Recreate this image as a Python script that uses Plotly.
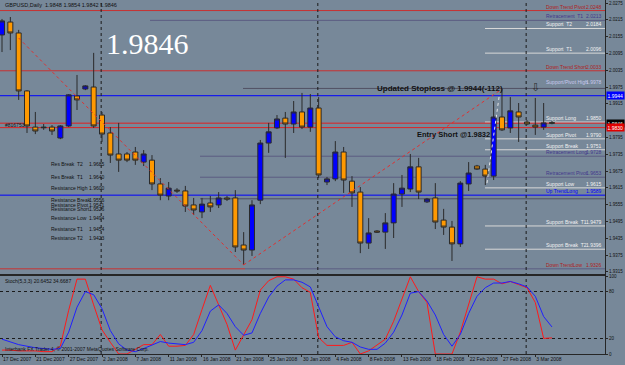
import plotly.graph_objects as go

# ---------------- data ----------------
bar_dates = [
    "17 Dec 2007", "18 Dec 2007", "19 Dec 2007", "20 Dec 2007", "21 Dec 2007", "23 Dec 2007",
    "24 Dec 2007", "26 Dec 2007", "27 Dec 2007", "28 Dec 2007", "30 Dec 2007", "31 Dec 2007",
    "2 Jan 2008", "3 Jan 2008", "4 Jan 2008", "6 Jan 2008", "7 Jan 2008", "8 Jan 2008",
    "9 Jan 2008", "10 Jan 2008", "11 Jan 2008", "13 Jan 2008", "14 Jan 2008", "15 Jan 2008",
    "16 Jan 2008", "17 Jan 2008", "18 Jan 2008", "20 Jan 2008", "21 Jan 2008", "22 Jan 2008",
    "23 Jan 2008", "24 Jan 2008", "25 Jan 2008", "27 Jan 2008", "28 Jan 2008", "29 Jan 2008",
    "30 Jan 2008", "31 Jan 2008", "1 Feb 2008", "3 Feb 2008", "4 Feb 2008", "5 Feb 2008",
    "6 Feb 2008", "7 Feb 2008", "8 Feb 2008", "10 Feb 2008", "11 Feb 2008", "12 Feb 2008",
    "13 Feb 2008", "14 Feb 2008", "15 Feb 2008", "17 Feb 2008", "18 Feb 2008", "19 Feb 2008",
    "20 Feb 2008", "21 Feb 2008", "22 Feb 2008", "24 Feb 2008", "25 Feb 2008", "26 Feb 2008",
    "27 Feb 2008", "28 Feb 2008", "29 Feb 2008", "2 Mar 2008", "3 Mar 2008", "4 Mar 2008",
    "5 Mar 2008"]

opens = [2.0161, 2.0207, 2.0168, 1.9961, 1.9832, 1.9832, 1.9832, 1.9793, 1.9836, 1.9943,
         1.9968, 1.9975, 1.9875, 1.9811, 1.9736, 1.9736, 1.9743, 1.9707, 1.9714, 1.9629,
         1.9586, 1.9607, 1.9604, 1.9554, 1.9529, 1.9561, 1.9554, 1.9579, 1.9579, 1.9411,
         1.9393, 1.9571, 1.9775, 1.9829, 1.9864, 1.9843, 1.9886, 1.9832, 1.9900, 1.9636,
         1.9647, 1.9743, 1.9639, 1.9600, 1.9418, 1.9461, 1.9457, 1.9490, 1.9593, 1.9611,
         1.9690, 1.9565, 1.9579, 1.9500, 1.9475, 1.9415, 1.9629, 1.9693, 1.9682, 1.9657,
         1.9868, 1.9829, 1.9886, 1.9850, 1.9839, 1.9832, 1.9848]
highs = [2.0218, 2.0225, 2.0179, 1.9964, 1.9886, 1.9843, 1.9839, 1.9839, 1.9950, 2.0018,
         1.9982, 2.0097, 1.9886, 1.9832, 1.9847, 1.9743, 1.9761, 1.9750, 1.9732, 1.9650,
         1.9636, 1.9614, 1.9622, 1.9579, 1.9579, 1.9586, 1.9600, 1.9586, 1.9607, 1.9457,
         1.9571, 1.9786, 1.9847, 1.9875, 1.9886, 1.9925, 1.9954, 1.9950, 1.9939, 1.9654,
         1.9782, 1.9761, 1.9657, 1.9618, 1.9507, 1.9464, 1.9525, 1.9632, 1.9661, 1.9736,
         1.9722, 1.9579, 1.9632, 1.9540, 1.9497, 1.9639, 1.9707, 1.9697, 1.9697, 1.9925,
         1.9968, 1.9939, 1.9918, 1.9857, 1.9936, 1.9918, 1.9854]
lows = [2.0100, 2.0107, 1.9929, 1.9811, 1.9807, 1.9822, 1.9804, 1.9789, 1.9832, 1.9893,
        1.9964, 1.9829, 1.9779, 1.9704, 1.9672, 1.9707, 1.9697, 1.9693, 1.9607, 1.9571,
        1.9571, 1.9597, 1.9529, 1.9518, 1.9507, 1.9529, 1.9543, 1.9568, 1.9386, 1.9340,
        1.9372, 1.9557, 1.9740, 1.9825, 1.9722, 1.9811, 1.9825, 1.9815, 1.9650, 1.9625,
        1.9639, 1.9597, 1.9547, 1.9382, 1.9397, 1.9454, 1.9397, 1.9436, 1.9547, 1.9600,
        1.9575, 1.9561, 1.9468, 1.9447, 1.9354, 1.9404, 1.9604, 1.9679, 1.9625, 1.9643,
        1.9818, 1.9811, 1.9779, 1.9839, 1.9804, 1.9822, 1.9842]
closes = [2.0211, 2.0168, 1.9961, 1.9836, 1.9818, 1.9830, 1.9818, 1.9836, 1.9947, 1.9929,
          1.9979, 1.9836, 1.9807, 1.9732, 1.9714, 1.9714, 1.9714, 1.9736, 1.9629, 1.9589,
          1.9614, 1.9604, 1.9550, 1.9536, 1.9557, 1.9547, 1.9579, 1.9575, 1.9404, 1.9393,
          1.9554, 1.9775, 1.9815, 1.9861, 1.9843, 1.9886, 1.9832, 1.9900, 1.9661, 1.9647,
          1.9743, 1.9643, 1.9597, 1.9418, 1.9454, 1.9457, 1.9490, 1.9593, 1.9614, 1.9690,
          1.9600, 1.9575, 1.9493, 1.9475, 1.9415, 1.9632, 1.9668, 1.9682, 1.9657, 1.9868,
          1.9822, 1.9890, 1.9868, 1.9843, 1.9832, 1.9847, 1.9846]

stoch_main = [5, 5, 4, 4, 4, 3, 3, 10, 56, 96,
              96, 63, 31, 15, 0, 0, 6, 12, 12, 25,
              10, 10, 11, 25, 57, 88, 63, 38, 5, 25,
              44, 82, 94, 99, 99, 96, 85, 79, 21, 11,
              11, 11, 15, 0, 4, 12, 19, 42, 70, 99,
              80, 66, 0, 0, 0, 28, 63, 99, 96, 96,
              90, 93, 89, 85, 66, 20, 20.6452]
stoch_signal = [19, 16, 12, 10, 8, 7, 6, 7, 28, 60,
                80, 76, 58, 30, 13, 5, 3, 7, 12, 16,
                14, 13, 12, 15, 30, 55, 63, 52, 35, 24,
                27, 52, 73, 87, 95, 95, 92, 86, 60, 35,
                22, 17, 15, 9, 6, 6, 14, 28, 50, 78,
                80, 68, 50, 25, 10, 25, 52, 74, 85, 91,
                91, 93, 90, 86, 74, 48, 34.6687]

# the 1.9855 tick is hidden behind the price box in the reference
price_ticks = [2.0275, 2.0215, 2.0155, 2.0095, 2.0035, 1.9975, 1.9915, 1.9795,
               1.9735, 1.9675, 1.9615, 1.9555, 1.9495, 1.9435, 1.9375, 1.9315]
stoch_ticks = [0, 20, 80, 100]

level_names = ["Down Trend Pivot", "Retracement  T1", "Support  T2", "Support  T1",
               "Down Trend Short", "Support/Pivot High", "Support Long", "Support Pivot",
               "Support Break", "Retracement Long", "Retracement Pivot", "Support Low",
               "Up TrendLong", "Support Break  T1", "Support Break  T2", "Down TrendLow"]
level_values = [2.0248, 2.0213, 2.0184, 2.0096, 2.0033, 1.9978, 1.9850, 1.9790, 1.9751,
                1.9728, 1.9653, 1.9615, 1.9589, 1.9479, 1.9396, 1.9326]

left_names = ["Res Break  T2", "Res Break  T1", "Resistance High", "Resistance Break",
              "Resistance Pivot", "Resistance Short", "Resistance Low", "Resistance T1",
              "Resistance T2"]
left_values = [1.9685, 1.9640, 1.9600, 1.9556, 1.9541, 1.9526, 1.9494, 1.9454, 1.9423]

stop_level = 1.9944
bid_level = 1.9846
entry_level = 1.9830
marker_line_level = 1.9970
retr_short_level = 1.9576
trend_a_x, trend_a_y = [2, 29], [2.0150, 1.9340]
trend_b_x, trend_b_y = [29, 60], [1.9340, 1.9968]
stop_arrow_bar, stop_arrow_price = 64, 1.9975

title_text = "GBPUSD,Daily  1.9848 1.9854 1.9842 1.9846"
stoch_text = "Stoch(5,3,3) 20.6452 34.6687"

for arr in (opens, highs, lows, closes, stoch_main, stoch_signal):
    assert len(arr) == len(bar_dates)

# ---------------- geometry / style ----------------
W, H = 625, 365
BG = "#778899"
FONT = "Liberation Sans"
PLOT_R = 605
X0_PX, DX_PX = 2.0, 8.333
MAIN_BOTTOM = 274
ST_TOP, ST_BOTTOM = 276, 354
bars = list(range(len(bar_dates)))


def px(x):
    return x / W


def py(y):
    return 1 - y / H


x_range = [(0 - X0_PX) / DX_PX, (PLOT_R - X0_PX) / DX_PX]
main_range = [1.93075, 2.02857]

RED_LINE = "#c83232"
RED_TXT = "#b01e1e"
PURP_LINE = "#5c5c82"
PURP_TXT = "#43388c"
WHITE_LINE = "#d8d8d8"
WHITE_TXT = "#f2f2f2"
BLUE = "#0000ff"
DARK = "#262626"

fig = go.Figure()

fig.add_trace(go.Candlestick(
    x=bars, open=opens, high=highs, low=lows, close=closes,
    xaxis="x", yaxis="y", whiskerwidth=0,
    increasing=dict(fillcolor="#0000ff", line=dict(color="#2a2a2a", width=1)),
    decreasing=dict(fillcolor="#ff9900", line=dict(color="#2a2a2a", width=1)),
    showlegend=False, hoverinfo="skip"))

# trend lines
fig.add_trace(go.Scatter(x=trend_a_x, y=trend_a_y, mode="lines", xaxis="x", yaxis="y",
                         line=dict(color="#e03030", width=1, dash="dot"), showlegend=False))
fig.add_trace(go.Scatter(x=trend_b_x, y=trend_b_y, mode="lines", xaxis="x", yaxis="y",
                         line=dict(color="#e03030", width=1, dash="dot"), showlegend=False))

# stochastic
fig.add_trace(go.Scatter(x=bars, y=stoch_main, mode="lines", xaxis="x2", yaxis="y2",
                         line=dict(color="#ff1a1a", width=1), showlegend=False))
fig.add_trace(go.Scatter(x=bars, y=stoch_signal, mode="lines", xaxis="x2", yaxis="y2",
                         line=dict(color="#2020ff", width=1), showlegend=False))

shapes = []
annotations = []


def hline(y, color, x0px=0, x1px=PLOT_R, dash="solid", width=1):
    shapes.append(dict(type="line", xref="paper", yref="y", x0=px(x0px), x1=px(x1px),
                       y0=y, y1=y, line=dict(color=color, width=width, dash=dash), layer="below"))


# level lines + right labels
for name, val in zip(level_names, level_values):
    if name.startswith("Down Trend"):
        tcol = RED_TXT
        if name == "Down TrendLow":
            hline(val, RED_LINE, 0, 245)
            hline(val, PURP_LINE, 245, PLOT_R)
        else:
            hline(val, RED_LINE)
    elif name.startswith("Retracement"):
        tcol = PURP_TXT
        hline(val, PURP_LINE, 200 if name != "Retracement  T1" else 150, PLOT_R)
    elif name.startswith("Up Trend"):
        tcol = BLUE
        hline(val, BLUE)
    elif name == "Support/Pivot High":
        tcol = "#c9c9ee"
    else:
        tcol = WHITE_TXT
        hline(val, WHITE_LINE, 485, PLOT_R)
    annotations.append(dict(xref="paper", yref="y", x=px(545), y=val, text=name,
                            xanchor="left", yanchor="bottom", showarrow=False,
                            font=dict(size=5, color=tcol, family=FONT), borderpad=0))
    annotations.append(dict(xref="paper", yref="y", x=px(603), y=val, text=f"{val:.4f}",
                            xanchor="right", yanchor="bottom", showarrow=False,
                            font=dict(size=5, color=tcol, family=FONT), borderpad=0))

hline(stop_level, BLUE)
hline(bid_level, "#e02020")
hline(entry_level, "#e02020")
hline(marker_line_level, "#505064", 243, PLOT_R)
hline(retr_short_level, "#505064", 200, PLOT_R)

# dotted vertical grid lines
for gx in [11.9, 37.9, 62.9]:
    shapes.append(dict(type="line", xref="x", yref="paper", x0=gx, x1=gx,
                       y0=py(ST_BOTTOM), y1=1, line=dict(color="#1a1a1a", width=1, dash="dot"),
                       layer="below"))

# white dotted stop marker line
shapes.append(dict(type="line", xref="x", yref="y", x0=58.2, x1=59.7, y0=1.9632, y1=1.9950,
                   line=dict(color="#e8e8e8", width=1, dash="dot")))

# left resistance labels
for name, val in zip(left_names, left_values):
    annotations.append(dict(xref="paper", yref="y", x=px(50), y=val, text=name,
                            xanchor="left", yanchor="bottom", showarrow=False,
                            font=dict(size=5, color="#111111", family=FONT), borderpad=0))
    annotations.append(dict(xref="paper", yref="y", x=px(88), y=val, text=f"{val:.4f}",
                            xanchor="left", yanchor="bottom", showarrow=False,
                            font=dict(size=5, color="#111111", family=FONT), borderpad=0))

# price boxes on the axis
for val, bg in [(stop_level, "#0000ff"), (bid_level, "#000000"), (entry_level, "#e00000")]:
    annotations.append(dict(xref="paper", yref="y", x=px(606), y=val, text=f"{val:.4f}",
                            xanchor="left", yanchor="middle", showarrow=False, bgcolor=bg,
                            font=dict(size=5, color="#ffffff", family=FONT), borderpad=0.5))

# texts
annotations += [
    dict(xref="paper", yref="paper", x=px(3), y=py(5), text=title_text, xanchor="left",
         yanchor="middle", showarrow=False, font=dict(size=5.5, color="#111111", family=FONT)),
    dict(xref="paper", yref="paper", x=px(147), y=py(44), text=f"{closes[-1]:.4f}",
         xanchor="center", yanchor="middle", showarrow=False,
         font=dict(size=30, color="#ffffff", family="Liberation Serif")),
    dict(xref="paper", yref="paper", x=px(3), y=py(125), text="#816753", xanchor="left",
         yanchor="middle", showarrow=False, font=dict(size=5, color="#111111", family=FONT)),
    dict(xref="paper", yref="paper", x=px(375), y=py(88),
         text=f"<b>Updated Stoploss @ {stop_level:.4f}(-112)</b>", xanchor="left",
         yanchor="middle", showarrow=False, font=dict(size=8, color="#111111", family=FONT)),
    dict(xref="paper", yref="paper", x=px(415), y=py(135),
         text="<b>Entry Short @1.9832</b>", xanchor="left",
         yanchor="middle", showarrow=False, font=dict(size=7.5, color="#111111", family=FONT)),
    dict(xref="x", yref="y", x=stop_arrow_bar, y=stop_arrow_price, text="⇩",
         xanchor="center", yanchor="middle", showarrow=False,
         font=dict(size=11, color="#2a2a2a", family="DejaVu Sans")),
    dict(xref="paper", yref="paper", x=px(3), y=py(281), text=stoch_text, xanchor="left",
         yanchor="middle", showarrow=False, font=dict(size=5, color="#111111", family=FONT)),
    dict(xref="paper", yref="paper", x=px(3), y=py(349),
         text="Interbank FX Trader 4, © 2001-2007 MetaQuotes Software Corp.", xanchor="left",
         yanchor="middle", showarrow=False, font=dict(size=5, color="#111111", family=FONT)),
]

tick_idx = list(range(0, len(bar_dates), 4))
fig.update_layout(
    width=W, height=H, margin=dict(l=0, r=0, t=0, b=0),
    paper_bgcolor=BG, plot_bgcolor=BG,
    font=dict(family=FONT, size=5, color="#111111"),
    showlegend=False, boxgap=0.25, boxgroupgap=0.2,
    xaxis=dict(domain=[0, px(PLOT_R)], range=x_range, anchor="y", showticklabels=False,
               showgrid=False, zeroline=False, showline=True, linecolor=DARK, linewidth=1,
               ticks="", rangeslider=dict(visible=False), fixedrange=True),
    yaxis=dict(domain=[py(MAIN_BOTTOM), 1], range=main_range, anchor="x", side="right",
               tickvals=price_ticks, ticktext=[f"{v:.4f}" for v in price_ticks],
               ticks="outside", ticklen=2, tickcolor=DARK, showgrid=False, zeroline=False,
               showline=True, linecolor=DARK, tickfont=dict(size=4.5, color="#111111"),
               automargin=False),
    xaxis2=dict(domain=[0, px(PLOT_R)], range=x_range, anchor="y2",
                tickvals=[bars[i] for i in tick_idx], ticktext=[bar_dates[i] for i in tick_idx],
                ticks="outside", ticklen=2, tickcolor=DARK, ticklabelposition="outside right",
                tickangle=0,
                tickfont=dict(size=5, color="#111111"), showgrid=False, zeroline=False,
                showline=True, mirror=True, linecolor=DARK, automargin=False),
    yaxis2=dict(domain=[py(ST_BOTTOM), py(ST_TOP)], range=[0, 100], anchor="x2", side="right",
                tickvals=stoch_ticks, ticktext=[str(v) for v in stoch_ticks], ticks="outside",
                ticklen=2, tickcolor=DARK, showgrid=True, gridcolor="#1a1a1a", griddash="dot",
                gridwidth=1, zeroline=False, showline=True, linecolor=DARK,
                tickfont=dict(size=4.5, color="#111111"), automargin=False),
    shapes=shapes, annotations=annotations,
)

fig.write_html("out.html")
